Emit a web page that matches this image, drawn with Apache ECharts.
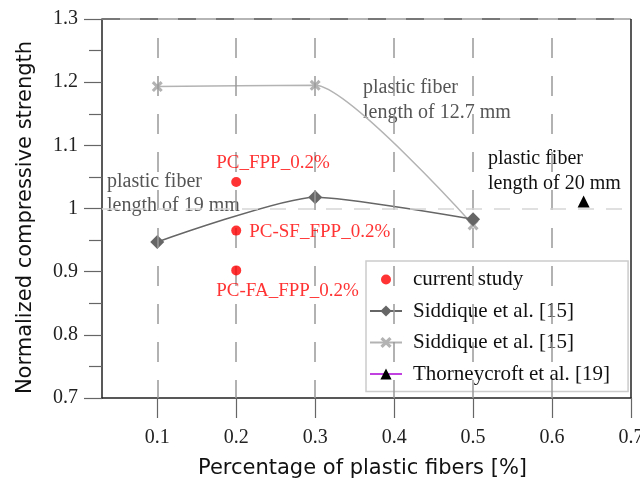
<!DOCTYPE html>
<html>
<head>
<meta charset="utf-8">
<script src="https://cdn.jsdelivr.net/npm/echarts@6/dist/echarts.min.js"></script>
<style>
  html, body { margin: 0; padding: 0; background: #fff; }
  #chart { width: 640px; height: 489px; }
</style>
</head>
<body>
<div id="chart"></div>
<script>
// Percentage of plastic fibres vs normalized compressive strength
const xTicks = [0.1, 0.2, 0.3, 0.4, 0.5, 0.6, 0.7];
const yTicks = [0.7, 0.8, 0.9, 1.0, 1.1, 1.2, 1.3];

// current study (three mixes at 0.2 %)
const currentX = [0.2, 0.2, 0.2];
const currentY = [1.042, 0.965, 0.902];
const currentNames = ['PC_FPP_0.2%', 'PC-SF_FPP_0.2%', 'PC-FA_FPP_0.2%'];

// Siddique et al. [15], fibre length 19 mm
const sid19X = [0.1, 0.3, 0.5];
const sid19Y = [0.947, 1.018, 0.983];

// Siddique et al. [15], fibre length 12.7 mm
const sid127X = [0.1, 0.3, 0.5];
const sid127Y = [1.193, 1.195, 0.974];

// Thorneycroft et al. [19], fibre length 20 mm
const thorX = [0.64];
const thorY = [1.011];

const SERIF = '"Liberation Serif", "DejaVu Serif", serif';
const SANS = '"DejaVu Sans", "Liberation Sans", sans-serif';

const zip = (xs, ys) => xs.map((x, i) => [x, ys[i]]);
const crossPath = 'path://M2,0 L5,3 L8,0 L10,2 L7,5 L10,8 L8,10 L5,7 L2,10 L0,8 L3,5 L0,2 Z';
// small dot centred in a 14x14 box for the legend
const dotIcon = 'path://M0,0 M14,14 M12,7 A5,5 0 1 1 2,7 A5,5 0 1 1 12,7 Z';

// label placement for the three red points: above, right, below
const labelPlace = [[-15, -14], [18, 6], [-15, 26]];

const chart = echarts.init(document.getElementById('chart'));

const vGrid = xTicks.slice(0, -1).map(v => ({ xAxis: v }));

chart.setOption({
  animation: false,
  textStyle: { fontFamily: SERIF },
  grid: { left: 102, right: 9, top: 19, bottom: 91, containLabel: false, outerBoundsMode: 'none' },
  xAxis: {
    type: 'value',
    min: 0.03,
    max: 0.7,
    name: 'Percentage of plastic fibers [%]',
    nameLocation: 'middle',
    nameGap: 60,
    nameTextStyle: { fontFamily: SANS, fontSize: 21, color: '#111', padding: [0, 8, 0, 0] },
    axisLine: { show: true, onZero: false, lineStyle: { color: '#222', width: 1.5 } },
    axisTick: { show: true, customValues: xTicks, length: 20, lineStyle: { color: '#666', width: 1.2 } },
    axisLabel: {
      customValues: xTicks, margin: 30, fontFamily: SERIF, fontSize: 20, color: '#222',
      formatter: v => String(Math.round(v * 10) / 10)
    },
    splitLine: { show: false }
  },
  yAxis: {
    type: 'value',
    min: 0.7,
    max: 1.3,
    interval: 0.1,
    name: 'Normalized compressive strength',
    nameLocation: 'middle',
    nameGap: 66,
    nameTextStyle: { fontFamily: SANS, fontSize: 21, color: '#111', padding: [0, 18, 0, 0] },
    axisLine: { show: true, lineStyle: { color: '#222', width: 1.5 } },
    axisTick: { show: true, length: 18, lineStyle: { color: '#666', width: 1.2 } },
    minorTick: { show: true, splitNumber: 2, length: 13, lineStyle: { color: '#666', width: 1.2 } },
    axisLabel: {
      margin: 24, fontFamily: SERIF, fontSize: 20, color: '#222',
      formatter: v => (Math.abs(v - 1) < 1e-9 ? '1' : v.toFixed(1))
    },
    splitLine: { show: false }
  },
  legend: {
    orient: 'vertical',
    left: 366,
    top: 261,
    padding: [8, 18, 7, 3],
    itemGap: 10.5,
    itemWidth: 32,
    itemHeight: 14,
    backgroundColor: '#fff',
    borderColor: '#ccc',
    borderWidth: 1.5,
    borderRadius: 0,
    textStyle: { fontFamily: SERIF, fontSize: 21, color: '#111', padding: [0, 0, 0, 6] },
    data: [
      { name: 'current study', icon: dotIcon },
      'Siddique et al. [15]',
      'Siddique et al. [15] ',
      'Thorneycroft et al. [19]'
    ]
  },
  series: [
    {
      // grid lines and frame
      type: 'line',
      data: [],
      silent: true,
      markLine: {
        silent: true,
        symbol: 'none',
        label: { show: false },
        animation: false,
        data: [
          ...vGrid.map(d => ({ ...d, lineStyle: { color: '#999', width: 1.5, type: [20, 18], dashOffset: 2 } })),
          { yAxis: 1.0, lineStyle: { color: '#d6d6d6', width: 1.5, type: [16, 12] } },
          { yAxis: 1.3, lineStyle: { color: '#b5b5b5', width: 2, type: 'solid' } },
          { yAxis: 1.3, lineStyle: { color: '#777', width: 2, type: [18, 20] } },
          { xAxis: 0.7, lineStyle: { color: '#222', width: 1.5, type: 'solid' } }
        ]
      }
    },
    {
      name: 'Siddique et al. [15] ',
      type: 'line',
      data: zip(sid127X, sid127Y),
      smooth: 0.18,
      symbol: crossPath,
      symbolSize: 11,
      itemStyle: { color: '#b3b3b3' },
      lineStyle: { color: '#b3b3b3', width: 1.5 },
      z: 3
    },
    {
      name: 'Siddique et al. [15]',
      type: 'line',
      data: zip(sid19X, sid19Y),
      smooth: 0.2,
      symbol: 'diamond',
      symbolSize: 14,
      itemStyle: { color: '#666' },
      lineStyle: { color: '#666', width: 1.5 },
      z: 4
    },
    {
      name: 'Thorneycroft et al. [19]',
      type: 'line',
      data: zip(thorX, thorY),
      symbol: 'triangle',
      symbolSize: 12,
      itemStyle: { color: '#000' },
      lineStyle: { color: '#c040e0', width: 1.5 },
      z: 4
    },
    {
      name: 'current study',
      type: 'scatter',
      symbol: 'circle',
      symbolSize: 10,
      symbolKeepAspect: true,
      itemStyle: { color: '#ff0000' },
      data: currentX.map((x, i) => ({
        value: [x, currentY[i]],
        label: {
          show: true,
          formatter: currentNames[i],
          position: labelPlace[i],
          align: 'left',
          verticalAlign: 'middle',
          color: '#ff0000',
          fontFamily: SERIF,
          fontSize: 19
        }
      })),
      z: 5
    }
  ],
  graphic: [
    {
      type: 'text', left: 107, top: 170, silent: true,
      style: { text: 'plastic fiber\nlength of 19 mm', fill: '#555', font: '20px ' + SERIF, lineHeight: 24 }
    },
    {
      type: 'text', left: 363, top: 75, silent: true,
      style: { text: 'plastic fiber\nlength of 12.7 mm', fill: '#555', font: '20px ' + SERIF, lineHeight: 25 }
    },
    {
      type: 'text', left: 488, top: 146, silent: true,
      style: { text: 'plastic fiber\nlength of 20 mm', fill: '#111', font: '20px ' + SERIF, lineHeight: 25 }
    }
  ]
});
</script>
</body>
</html>
